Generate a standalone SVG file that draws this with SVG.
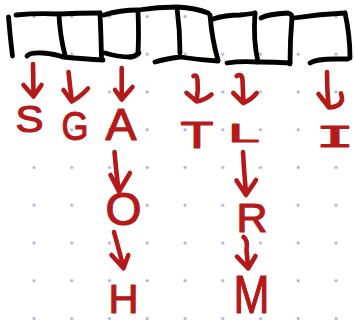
<svg xmlns="http://www.w3.org/2000/svg" width="355" height="322" viewBox="0 0 355 322">
<style>
.ink{fill:none;stroke:#000;stroke-width:4.8;stroke-linecap:round;stroke-linejoin:round}
.arr{fill:none;stroke:#b51a1a;stroke-width:4.6;stroke-linecap:round;stroke-linejoin:round}
.ch{font-family:"Liberation Sans",Arial,sans-serif;fill:#b51a1a;stroke:#b51a1a;stroke-width:1.2;stroke-linejoin:round;text-anchor:middle}
.mono{font-family:"DejaVu Sans Mono","Liberation Mono",monospace}
</style>
<defs>
<pattern id="dots" patternUnits="userSpaceOnUse" x="0" y="0" width="37.75" height="37.75">
<circle cx="34" cy="16.5" r="1.6" fill="#a7b6d4"/>
</pattern>
</defs>
<rect width="355" height="322" fill="#fff"/>
<rect width="355" height="322" fill="url(#dots)"/>
<g id="array">
<path class="ink" d="M8.5,17 Q10,36 12.5,56"/>
<path class="ink" d="M16,15 Q37,13 58,14 Q80,13 100,13"/>
<path class="ink" d="M104,15 Q120,10 138,10 Q158,7 177,7 Q196,8 208,13"/>
<path class="ink" d="M213,19 Q225,15 240,15 Q250,14 255,13"/>
<path class="ink" d="M261,18 Q268,14 288,13 Q292,14 292,17"/>
<path class="ink" d="M294,18 Q320,14 345,13"/>
<path class="ink" d="M59,15 Q60,36 65,55"/>
<path class="ink" d="M100,13 Q101,35 101.5,57"/>
<path class="ink" d="M138,11 Q139,35 138,53 Q135,57 130,57"/>
<path class="ink" d="M177,8 Q180,30 180,53"/>
<path class="ink" d="M210,15 Q212,40 218,60"/>
<path class="ink" d="M255,13 Q253,40 258,62"/>
<path class="ink" d="M292,17 Q290,40 290,64"/>
<path class="ink" d="M345,13 Q350,35 350,58"/>
<path class="ink" d="M27,56 Q30,52 43,53 Q55,54 63,57 Q85,59 103,60"/>
<path class="ink" d="M105,53 Q118,57 130,57 Q137,56 139,53"/>
<path class="ink" d="M155,62 Q165,59 180,57 Q200,60 218,61"/>
<path class="ink" d="M227,63 Q240,61 258,62"/>
<path class="ink" d="M260,62 Q275,62 290,63"/>
<path class="ink" d="M310,63 Q316,59 335,59 L348,59"/>
</g>
<g id="connectors">
<path class="arr" d="M33,64 L33.5,95 M23.5,85 L33.5,96.5 L41.5,85"/>
<path class="arr" d="M68.5,72 Q70,86 71.7,100 M63.5,90 L71.7,101.5 Q80,97 88,88.5"/>
<path class="arr" d="M121.7,68 L121.7,97 M115,90 L121.7,99.5 L132.5,87"/>
<path class="arr" d="M193.5,76 Q197,74 197.5,80 Q198.5,90 196.7,100 M186.7,93 L196.7,101.5 Q205,100 211.5,94.5"/>
<path class="arr" d="M236.7,76 Q242,73 242.5,80 L243.3,100 M233.3,93 L243.3,103 Q251,100 256.7,93"/>
<path class="arr" d="M327,72 Q327,90 328.5,106 M318.5,94 L329,107.5 Q340,107 342,100 Q342,96 341,93.5"/>
<path class="arr" d="M114.5,152 Q116,170 118.5,190 M110.5,175 L119,191.5 L130,173"/>
<path class="arr" d="M114,232 Q119,250 123.3,266.5 M111.5,255 L123.5,268.3 L128.3,255"/>
<path class="arr" d="M243,152 Q244,172 246,193 M236.5,180.5 L246,195 L256,180"/>
<path class="arr" d="M243.5,237 Q248,240 246.5,250 L248,266.5 M237,256.7 L248.3,268.3 L255.5,256"/>
</g>
<g id="node-S"><text class="ch" x="29.5" y="132" font-size="36" textLength="28" lengthAdjust="spacingAndGlyphs">S</text></g>
<g id="node-G"><text class="ch" x="75" y="139.5" font-size="40" textLength="27" lengthAdjust="spacingAndGlyphs">G</text></g>
<g id="node-A"><text class="ch" x="121" y="139.5" font-size="44" textLength="31" lengthAdjust="spacingAndGlyphs">A</text></g>
<g id="node-T"><text class="ch" x="197" y="147.5" font-size="37.5" textLength="33" lengthAdjust="spacingAndGlyphs">T</text></g>
<g id="node-L"><text class="ch" x="244" y="141.5" font-size="26" textLength="31" lengthAdjust="spacingAndGlyphs">L</text></g>
<g id="node-I"><text class="ch mono" x="335" y="146.5" font-size="28.5" textLength="39" lengthAdjust="spacingAndGlyphs">I</text></g>
<g id="node-O"><text class="ch" x="123.5" y="224.5" font-size="46" textLength="36" lengthAdjust="spacingAndGlyphs">O</text></g>
<g id="node-H"><text class="ch" x="123.5" y="312.5" font-size="41.5" textLength="30" lengthAdjust="spacingAndGlyphs">H</text></g>
<g id="node-R"><text class="ch" x="252" y="231.5" font-size="40" textLength="31" lengthAdjust="spacingAndGlyphs">R</text></g>
<g id="node-M"><text class="ch" x="251.5" y="312.5" font-size="54" textLength="36" lengthAdjust="spacingAndGlyphs">M</text></g>
</svg>
